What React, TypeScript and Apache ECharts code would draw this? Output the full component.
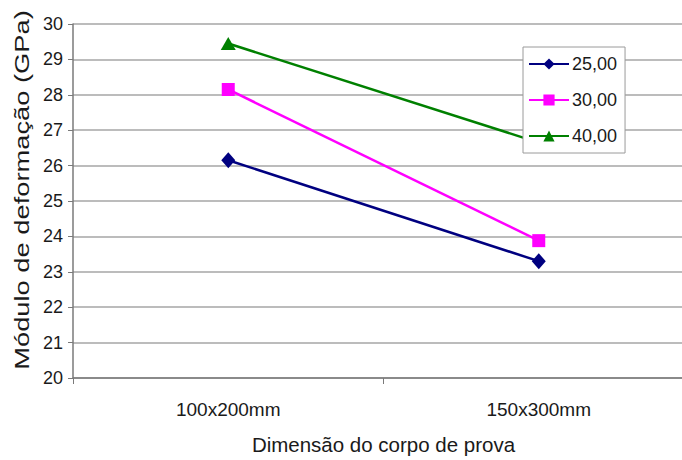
import React, { useEffect, useRef } from "react";
import * as echarts from "echarts";

const categories = ["100x200mm", "150x300mm"];
const seriesNames = ["25,00", "30,00", "40,00"];
const values25 = [26.15, 23.3];
const values30 = [28.15, 23.88];
const values40 = [29.45, 26.65];
const yTicks = [20, 21, 22, 23, 24, 25, 26, 27, 28, 29, 30];

const colors = ["#000080", "#FF00FF", "#008000"];
const symbols = ["diamond", "rect", "triangle"];
const symbolSizes: any[] = [[14, 16], 13, [15, 13]];

export default function App() {
  const ref = useRef<HTMLDivElement>(null);
  useEffect(() => {
    document.body.style.margin = "0";
    if (!ref.current) return;
    const chart = echarts.init(ref.current, null, { renderer: "svg" });
    const font = "Liberation Sans";
    const data = [values25, values30, values40];
    chart.setOption({
      animation: false,
      backgroundColor: "#ffffff",
      textStyle: { fontFamily: font },
      grid: { left: 73, top: 24, width: 621, height: 359 },
      legend: {
        orient: "vertical",
        left: 523,
        top: 47,
        padding: [8, 8, 8, 5],
        itemGap: 18,
        itemWidth: 40,
        itemHeight: 14,
        backgroundColor: "#ffffff",
        borderColor: "#9a9a9a",
        borderWidth: 1,
        textStyle: { fontSize: 18, color: "#1a1a1a", fontFamily: font, padding: [0, 0, 0, -2] },
        data: seriesNames,
      },
      xAxis: {
        type: "category",
        data: categories,
        boundaryGap: true,
        axisLine: { lineStyle: { color: "#7a7a7a", width: 1.5 } },
        axisTick: { show: true, length: 6, lineStyle: { color: "#7a7a7a" } },
        axisLabel: { fontSize: 19, color: "#1a1a1a", margin: 22, fontFamily: font },
        name: "Dimensão do corpo de prova",
        nameLocation: "middle",
        nameGap: 56,
        nameTextStyle: { fontSize: 20.5, color: "#1a1a1a", fontFamily: font },
      },
      yAxis: {
        type: "value",
        min: yTicks[0],
        max: yTicks[yTicks.length - 1],
        interval: 1,
        axisLine: { show: true, lineStyle: { color: "#7a7a7a", width: 1.5 } },
        axisTick: { show: true, length: 5, lineStyle: { color: "#7a7a7a" } },
        axisLabel: { fontSize: 18, color: "#1a1a1a", margin: 10, fontFamily: font },
        splitLine: { lineStyle: { color: "#a6a6a6", width: 1.5 } },
      },
      graphic: [
        {
          type: "text",
          x: 22,
          y: 190,
          rotation: Math.PI / 2,
          scaleX: 1.3,
          style: {
            text: "Módulo de deformação (GPa)",
            font: `21px "${font}"`,
            fill: "#1a1a1a",
            align: "center",
            verticalAlign: "middle",
          },
        },
      ],
      series: seriesNames.map((name, i) => ({
        name,
        type: "line",
        data: data[i],
        symbol: symbols[i],
        symbolSize: symbolSizes[i],
        lineStyle: { color: colors[i], width: 2.5 },
        itemStyle: { color: colors[i] },
        z: 2,
      })),
    });
    return () => chart.dispose();
  }, []);
  return (
    <div style={{ width: 682, height: 460, overflow: "hidden" }}>
      <div ref={ref} style={{ width: 694, height: 460 }} />
    </div>
  );
}
